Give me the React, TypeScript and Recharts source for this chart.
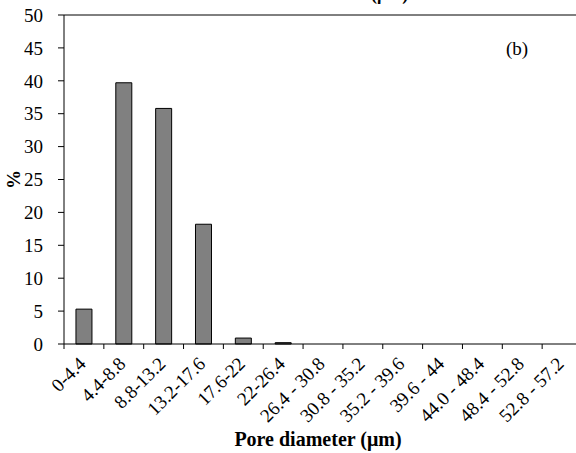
import React from 'react';
import { BarChart, Bar, XAxis, YAxis, ReferenceLine } from 'recharts';

const categories = [
  '0-4.4', '4.4-8.8', '8.8-13.2', '13.2-17.6', '17.6-22', '22-26.4',
  '26.4 - 30.8', '30.8 - 35.2', '35.2 - 39.6', '39.6 - 44', '44.0 - 48.4',
  '48.4 - 52.8', '52.8 - 57.2',
];
const percentValues = [5.3, 39.7, 35.8, 18.2, 0.9, 0.2, 0, 0, 0, 0, 0, 0, 0];
const yTicks = [0, 5, 10, 15, 20, 25, 30, 35, 40, 45, 50];

const data = categories.map((c, i) => ({ range: c, pct: percentValues[i] }));

const FONT = '"Liberation Serif", "Times New Roman", serif';

const XTick = (props: any) => {
  const { x, y, payload } = props;
  const off = payload && payload.offset != null ? payload.offset : 0;
  const tx = x + 3;
  const ty = y + 16;
  return (
    <g>
      <line x1={x - off} y1={y - 5} x2={x - off} y2={y} stroke="#000" strokeWidth={1} />
      <text
        x={tx}
        y={ty}
        textAnchor="end"
        transform={`rotate(-45, ${tx}, ${ty})`}
        fontSize={19}
        fontFamily={FONT}
        fill="#000"
      >
        {payload.value}
      </text>
    </g>
  );
};

export default function App() {
  return (
    <div
      style={{
        position: 'absolute',
        left: 0,
        top: 0,
        width: 576,
        height: 453,
        overflow: 'hidden',
        background: '#fff',
        fontFamily: FONT,
      }}
    >
      <div
        style={{
          position: 'absolute',
          left: 371,
          top: -15,
          fontSize: 18,
          lineHeight: '18px',
          fontWeight: 'bold',
          whiteSpace: 'nowrap',
          color: '#000',
        }}
      >
        (μm)
      </div>
      <BarChart
        width={600}
        height={453}
        data={data}
        margin={{ top: 15, right: 18, bottom: 0, left: 0 }}
        barCategoryGap="30%"
      >
        <XAxis
          dataKey="range"
          interval={0}
          height={109}
          tickSize={5}
          tickMargin={0}
          tickLine={false}
          tick={<XTick />}
          axisLine={{ stroke: '#000', strokeWidth: 1 }}
          label={{
            value: 'Pore diameter (μm)',
            position: 'insideBottom',
            offset: 7,
            dx: -5,
            style: { fontSize: 20, fontWeight: 'bold', fontFamily: FONT, fill: '#000' },
          }}
        />
        <YAxis
          domain={[0, 50]}
          ticks={yTicks}
          interval={0}
          width={64}
          tickSize={6}
          tickMargin={15}
          tick={{ fontSize: 19, fontFamily: FONT, fill: '#000' }}
          tickLine={{ stroke: '#000' }}
          axisLine={{ stroke: '#000', strokeWidth: 1 }}
          label={{
            value: '%',
            angle: -90,
            position: 'insideLeft',
            offset: 13,
            style: { fontSize: 19, fontWeight: 'bold', fontFamily: FONT, fill: '#000', textAnchor: 'middle' },
          }}
        />
        <ReferenceLine y={50} stroke="#000" strokeWidth={1} />
        <Bar dataKey="pct" fill="#808080" stroke="#000" strokeWidth={1} isAnimationActive={false} />
      </BarChart>
      <div
        style={{
          position: 'absolute',
          left: 506,
          top: 39,
          fontSize: 19,
          lineHeight: '19px',
          whiteSpace: 'nowrap',
          color: '#000',
        }}
      >
        (b)
      </div>
    </div>
  );
}
